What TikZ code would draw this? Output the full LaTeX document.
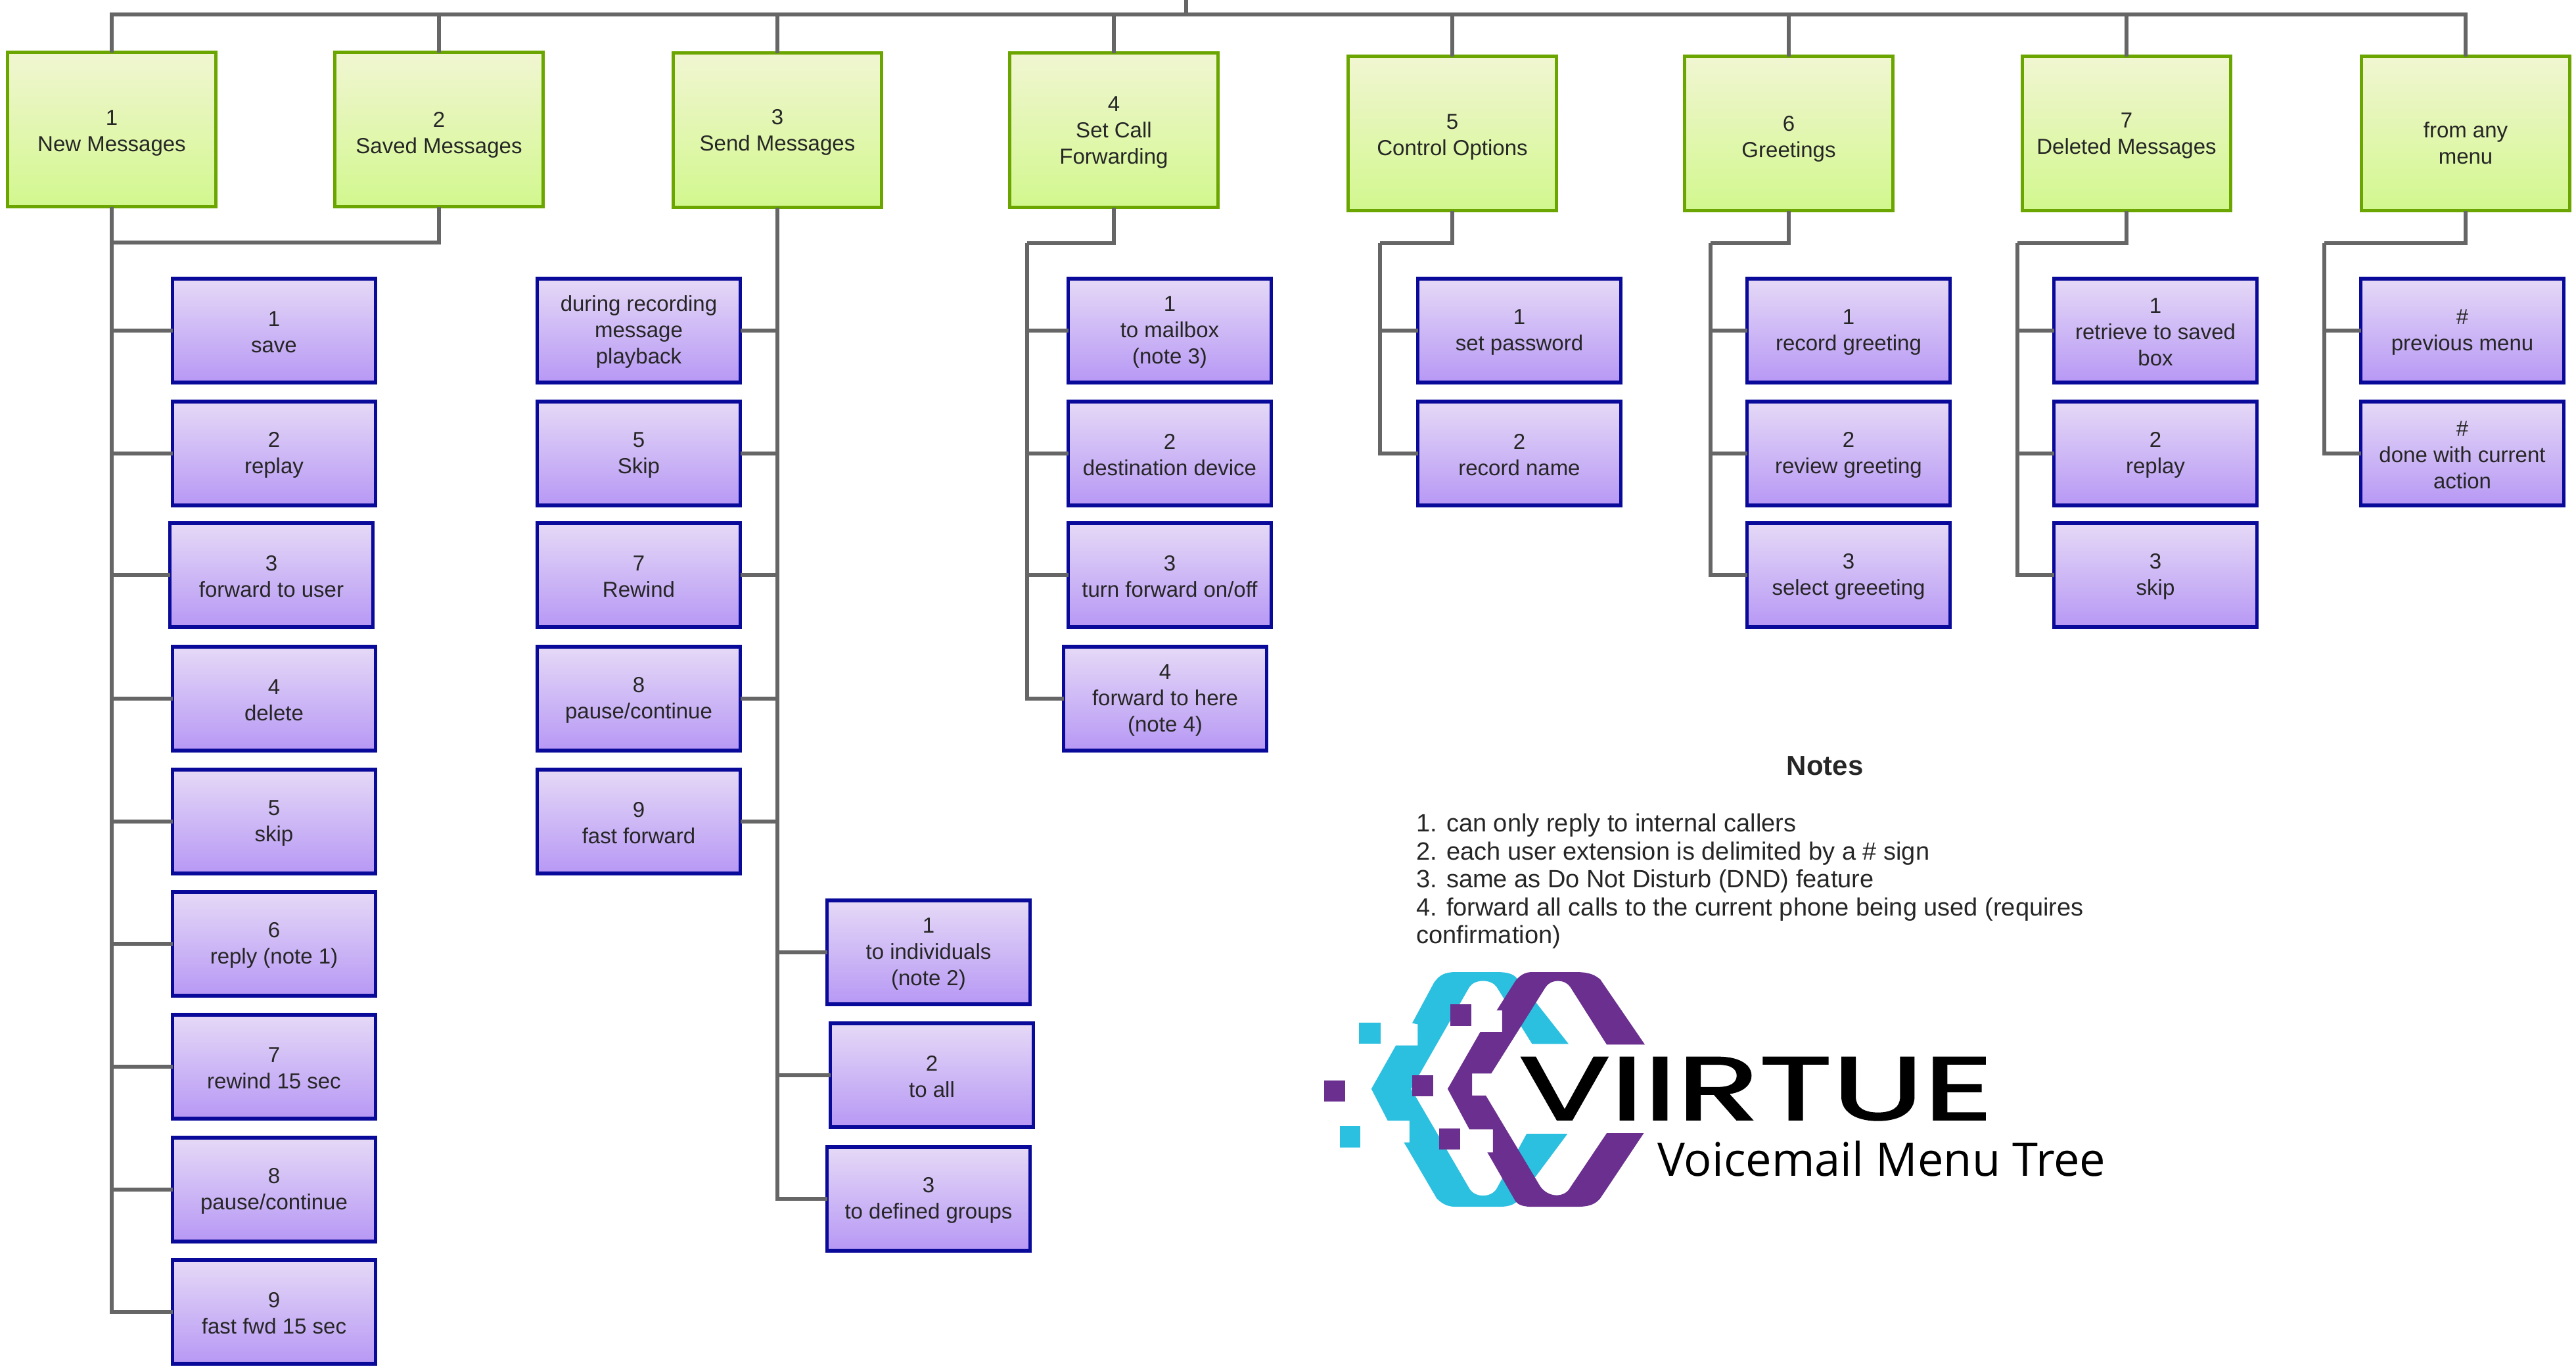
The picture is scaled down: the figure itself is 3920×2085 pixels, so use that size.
\documentclass[tikz,border=0pt]{standalone}
\usepackage{fontspec}
\setmainfont{Liberation Sans}
\newfontfamily\logofont[FakeBold=1.6]{Poppins}
\newfontfamily\titlefont{Open Sans}
\usepackage{tikz}
\definecolor{wiregray}{HTML}{666666}
\definecolor{menugreen}{HTML}{6BA500}
\definecolor{menublue}{HTML}{0A0A9A}
\definecolor{greentop}{HTML}{F1F6D2}
\definecolor{greenbot}{HTML}{D2F78E}
\definecolor{violettop}{HTML}{E5D9F6}
\definecolor{violetbot}{HTML}{B798F5}
\definecolor{logocyan}{HTML}{2BBFE0}
\definecolor{logopurple}{HTML}{6A2F8F}
\tikzset{
  drop/.style={execute at begin node={\rule{0pt}{#1}}},
  menubox/.style={draw=menugreen,line width=2.8pt,rectangle,outer sep=0pt,inner sep=0pt,align=center,
    minimum width=158.5pt,minimum height=117.5pt,top color=greentop,bottom color=greenbot,
    font=\fontsize{16.5}{20}\selectfont,text=black!85},
  itembox/.style={draw=menublue,line width=2.8pt,rectangle,outer sep=0pt,inner sep=0pt,align=center,drop=34pt,
    minimum width=154.5pt,minimum height=79pt,top color=violettop,bottom color=violetbot,
    font=\fontsize{16.5}{20}\selectfont,text=black!85},
  wire/.style={draw=wiregray,line width=2.6pt}
}

\begin{document}
\begin{tikzpicture}[x=.5pt,y=-.5pt]
\useasboundingbox (0,0) rectangle (3920,2085);

\node[menubox,drop=37pt] (new) at (170,197) {1\\New Messages};
\node[menubox,drop=39.5pt] (saved) at (668,197) {2\\Saved Messages};
\node[menubox,drop=34.5pt] (send) at (1183,198) {3\\Send Messages};
\node[menubox,drop=54.5pt] (forward) at (1695,198) {4\\Set Call\\Forwarding};
\node[menubox,drop=37pt] (control) at (2210,203) {5\\Control Options};
\node[menubox,drop=39.5pt] (greet) at (2722,203) {6\\Greetings};
\node[menubox,drop=34.5pt] (deleted) at (3236,203) {7\\Deleted Messages};
\node[menubox,drop=47pt] (any) at (3752,203) {from any\\menu};

% new and saved messages
\node[itembox] (save) at (417,503) {1\\save};
\node[itembox] (replay) at (417,690) {2\\replay};
\node[itembox] (touser) at (413,875) {3\\forward to user};
\node[itembox] (delete) at (417,1063) {4\\delete};
\node[itembox] (skip) at (417,1250) {5\\skip};
\node[itembox] (reply) at (417,1436) {6\\reply (note 1)};
\node[itembox] (rewind) at (417,1623) {7\\rewind 15 sec};
\node[itembox] (pause) at (417,1810) {8\\pause/continue};
\node[itembox] (fastfwd) at (417,1996) {9\\fast fwd 15 sec};

% send messages
\node[itembox,drop=54pt] (during) at (972,503) {during recording\\message\\playback};
\node[itembox] (sskip) at (972,690) {5\\Skip};
\node[itembox] (srewind) at (972,875) {7\\Rewind};
\node[itembox] (spause) at (972,1063) {8\\pause/continue};
\node[itembox] (sfast) at (972,1250) {9\\fast forward};
\node[itembox,drop=54pt] (indiv) at (1413,1449) {1\\to individuals\\(note 2)};
\node[itembox] (toall) at (1418,1636) {2\\to all};
\node[itembox] (groups) at (1413,1824) {3\\to defined groups};

% call forwarding
\node[itembox,drop=54pt] (mailbox) at (1780,503) {1\\to mailbox\\(note 3)};
\node[itembox] (device) at (1780,690) {2\\destination device};
\node[itembox] (onoff) at (1780,875) {3\\turn forward on/off};
\node[itembox,drop=54pt] (tohere) at (1773,1063) {4\\forward to here\\(note 4)};

% control options
\node[itembox] (password) at (2312,503) {1\\set password};
\node[itembox] (recname) at (2312,690) {2\\record name};

% greetings
\node[itembox] (recgreet) at (2813,503) {1\\record greeting};
\node[itembox] (revgreet) at (2813,690) {2\\review greeting};
\node[itembox] (selgreet) at (2813,875) {3\\select greeeting};

% deleted messages
\node[itembox,drop=54pt] (retrieve) at (3280,503) {1\\retrieve to saved\\box};
\node[itembox] (dreplay) at (3280,690) {2\\replay};
\node[itembox] (dskip) at (3280,875) {3\\skip};

% from any menu
\node[itembox] (prev) at (3747,503) {\#\\previous menu};
\node[itembox,drop=54pt] (done) at (3747,690) {\#\\done with current\\action};

\coordinate (root) at (1805,0);
\coordinate (bar) at (1805,22);
\coordinate (newjoin) at (170,369);
\coordinate (fwdjoin) at (1563,370);
\coordinate (ctljoin) at (2100,370);
\coordinate (grtjoin) at (2603,370);
\coordinate (deljoin) at (3070,370);
\coordinate (anyjoin) at (3537,370);

\draw[wire] (root) -- (bar);
\draw[wire] (bar) -| (new.north);
\draw[wire] (bar) -| (saved.north);
\draw[wire] (bar) -| (send.north);
\draw[wire] (bar) -| (forward.north);
\draw[wire] (bar) -| (control.north);
\draw[wire] (bar) -| (greet.north);
\draw[wire] (bar) -| (deleted.north);
\draw[wire] (bar) -| (any.north);

\draw[wire] (saved.south) |- (newjoin);
\draw[wire] (new.south) |- (save.west);
\draw[wire] (new.south) |- (replay.west);
\draw[wire] (new.south) |- (touser.west);
\draw[wire] (new.south) |- (delete.west);
\draw[wire] (new.south) |- (skip.west);
\draw[wire] (new.south) |- (reply.west);
\draw[wire] (new.south) |- (rewind.west);
\draw[wire] (new.south) |- (pause.west);
\draw[wire] (new.south) |- (fastfwd.west);

\draw[wire] (send.south) |- (during.east);
\draw[wire] (send.south) |- (sskip.east);
\draw[wire] (send.south) |- (srewind.east);
\draw[wire] (send.south) |- (spause.east);
\draw[wire] (send.south) |- (sfast.east);
\draw[wire] (send.south) |- (indiv.west);
\draw[wire] (send.south) |- (toall.west);
\draw[wire] (send.south) |- (groups.west);

\draw[wire] (forward.south) |- (fwdjoin);
\draw[wire] (fwdjoin) |- (mailbox.west);
\draw[wire] (fwdjoin) |- (device.west);
\draw[wire] (fwdjoin) |- (onoff.west);
\draw[wire] (fwdjoin) |- (tohere.west);

\draw[wire] (control.south) |- (ctljoin);
\draw[wire] (ctljoin) |- (password.west);
\draw[wire] (ctljoin) |- (recname.west);

\draw[wire] (greet.south) |- (grtjoin);
\draw[wire] (grtjoin) |- (recgreet.west);
\draw[wire] (grtjoin) |- (revgreet.west);
\draw[wire] (grtjoin) |- (selgreet.west);

\draw[wire] (deleted.south) |- (deljoin);
\draw[wire] (deljoin) |- (retrieve.west);
\draw[wire] (deljoin) |- (dreplay.west);
\draw[wire] (deljoin) |- (dskip.west);

\draw[wire] (any.south) |- (anyjoin);
\draw[wire] (anyjoin) |- (prev.west);
\draw[wire] (anyjoin) |- (done.west);

% notes
\node[font=\fontsize{21}{26}\selectfont\bfseries,text=black!85] (notesh) at (2777,1165) {Notes};
\node[anchor=north west,inner sep=0pt,align=left,font=\fontsize{19}{21.2}\selectfont,text=black!85] (notes) at (2155,1238) {1. can only reply to internal callers\\2. each user extension is delimited by a \# sign\\3. same as Do Not Disturb (DND) feature\\4. forward all calls to the current phone being used (requires\\confirmation)};

% logo
\begin{scope}[shift={(1950,1400)},x=.4146pt,y=-.1667pt]
\fill[logocyan] (320,237) -- (395,237) .. controls (415,237) and (425,245) .. (432,265) -- (527,565) -- (460,565) -- (395,305) .. controls (385,268) and (355,268) .. (345,305) -- (238,770) -- (345,1225) .. controls (355,1268) and (385,1268) .. (395,1225) -- (450,975) -- (525,975) -- (432,1285) .. controls (425,1300) and (415,1308) .. (400,1308) -- (320,1308) .. controls (305,1308) and (295,1295) .. (285,1270) -- (225,1015) -- (235,1015) -- (235,915) -- (195,915) -- (165,770) -- (210,572) -- (250,572) -- (250,475) -- (240,470) -- (280,285) .. controls (290,250) and (300,237) .. (320,237) -- cycle;
\fill[logopurple] (460,237) -- (540,237) .. controls (565,237) and (575,250) .. (585,270) -- (667,568) -- (597,568) -- (530,305) .. controls (520,268) and (495,268) .. (485,305) -- (385,700) -- (350,700) -- (350,800) -- (375,800) -- (475,1215) .. controls (490,1268) and (520,1268) .. (530,1220) -- (597,972) -- (665,972) -- (585,1270) .. controls (575,1298) and (565,1308) .. (540,1308) -- (460,1308) .. controls (445,1308) and (435,1300) .. (430,1285) -- (378,1060) -- (388,1060) -- (388,955) -- (345,955) -- (305,770) -- (365,510) -- (405,510) -- (405,412) -- (395,412) -- (430,275) .. controls (440,245) and (450,237) .. (460,237) -- cycle;
\fill[logocyan] (142,468) rectangle (182,565);
\fill[logocyan] (107,940) rectangle (145,1037);
\fill[logopurple] (78,733) rectangle (117,828);
\fill[logopurple] (310,385) rectangle (348,482);
\fill[logopurple] (240,708) rectangle (278,805);
\fill[logopurple] (290,950) rectangle (328,1048);
\end{scope}
\node[anchor=south west,inner sep=0pt] (brand) at (2311,1705) {\resizebox{360.5pt}{47.5pt}{\logofont VIIRTUE}};
\node[anchor=base west,inner sep=0pt,font=\titlefont\fontsize{35.2}{40}\selectfont] (title) at (2522,1789) {Voicemail Menu Tree};
\end{tikzpicture}
\end{document}
